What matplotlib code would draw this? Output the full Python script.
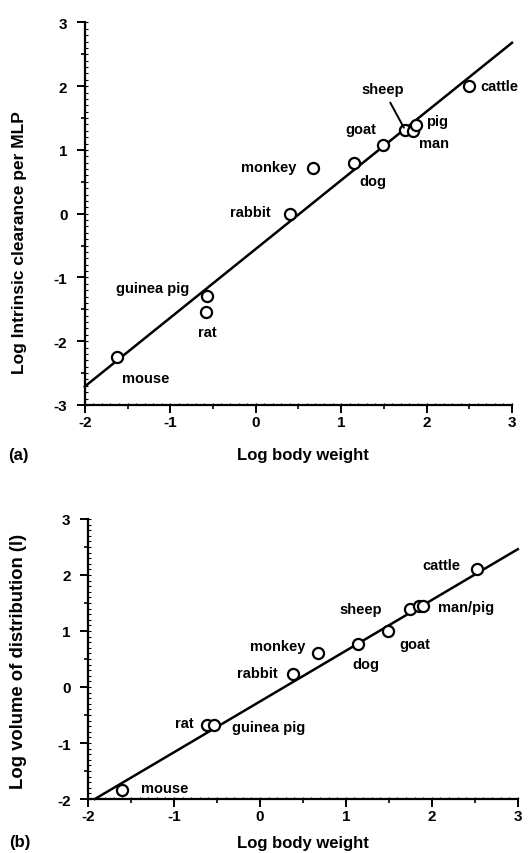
import matplotlib
matplotlib.use("Agg")
import matplotlib.pyplot as plt
from matplotlib.ticker import MultipleLocator, NullFormatter

plt.rcParams['font.family'] = ['Liberation Sans', 'DejaVu Sans']
plt.rcParams['font.weight'] = 'bold'
plt.rcParams['axes.unicode_minus'] = False

# panel (a): intrinsic clearance
species_a = ['mouse', 'guinea pig', 'rat', 'rabbit', 'monkey', 'dog', 'goat',
             'sheep', 'man', 'pig', 'cattle']
x_a = [-1.62, -0.57, -0.58, 0.40, 0.67, 1.15, 1.49, 1.75, 1.84, 1.88, 2.50]
y_a = [-2.24, -1.29, -1.54, 0.00, 0.72, 0.80, 1.08, 1.31, 1.30, 1.39, 2.00]
fit_a_x = [-2.0, 3.0]
fit_a_y = [-2.71, 2.68]
# label anchor positions (x, y, horizontal alignment)
lab_a = {
    'mouse': (-1.57, -2.57, 'left'),
    'guinea pig': (-0.78, -1.16, 'right'),
    'rat': (-0.57, -1.85, 'center'),
    'rabbit': (0.17, 0.03, 'right'),
    'monkey': (0.48, 0.73, 'right'),
    'dog': (1.21, 0.51, 'left'),
    'goat': (1.41, 1.33, 'right'),
    'sheep': (1.49, 1.95, 'center'),
    'man': (1.91, 1.11, 'left'),
    'pig': (1.99, 1.45, 'left'),
    'cattle': (2.63, 2.00, 'left'),
}

# panel (b): volume of distribution
species_b = ['mouse', 'rat', 'guinea pig', 'rabbit', 'monkey', 'dog', 'goat',
             'sheep', 'man', 'pig', 'cattle']
x_b = [-1.60, -0.61, -0.53, 0.39, 0.67, 1.14, 1.49, 1.75, 1.85, 1.90, 2.52]
y_b = [-1.83, -0.68, -0.68, 0.24, 0.60, 0.77, 1.00, 1.40, 1.45, 1.45, 2.10]
fit_b_x = [-1.92, 3.0]
fit_b_y = [-2.0, 2.46]
lab_b = {
    'mouse': (-1.38, -1.80, 'left'),
    'rat': (-0.77, -0.64, 'right'),
    'guinea pig': (-0.33, -0.71, 'left'),
    'rabbit': (0.21, 0.25, 'right'),
    'monkey': (0.21, 0.74, 'center'),
    'dog': (1.23, 0.41, 'center'),
    'goat': (1.62, 0.77, 'left'),
    'sheep': (1.42, 1.39, 'right'),
    'man/pig': (2.07, 1.43, 'left'),
    'cattle': (2.33, 2.17, 'right'),
}


def style_axes(ax, ylim):
    ax.set_xlim(-2, 3)
    ax.set_ylim(*ylim)
    ax.spines['top'].set_visible(False)
    ax.spines['right'].set_visible(False)
    ax.spines['left'].set_linewidth(1.6)
    ax.spines['bottom'].set_linewidth(1.6)
    ax.xaxis.set_major_locator(MultipleLocator(1))
    ax.yaxis.set_major_locator(MultipleLocator(1))
    ax.xaxis.set_minor_locator(MultipleLocator(0.5))
    ax.yaxis.set_minor_locator(MultipleLocator(0.5))
    ax.tick_params(which='major', direction='out', length=5.5, width=1.4,
                   labelsize=11)
    ax.tick_params(axis='x', which='major', pad=2)
    ax.tick_params(axis='y', which='major', pad=7)
    ax.tick_params(which='minor', direction='out', length=3, width=1.2)
    for lab in ax.get_xticklabels() + ax.get_yticklabels():
        lab.set_fontweight('bold')
    # fine inner ticks every 0.1
    sx = ax.secondary_xaxis('bottom')
    sx.xaxis.set_major_locator(MultipleLocator(0.1))
    sx.xaxis.set_major_formatter(NullFormatter())
    sx.tick_params(direction='in', length=1.8, width=0.8)
    sx.spines['bottom'].set_visible(False)
    sy = ax.secondary_yaxis('left')
    sy.yaxis.set_major_locator(MultipleLocator(0.1))
    sy.yaxis.set_major_formatter(NullFormatter())
    sy.tick_params(direction='in', length=1.8, width=0.8)
    sy.spines['left'].set_visible(False)


fig = plt.figure(figsize=(5.3, 8.54), dpi=100)

ax1 = fig.add_axes([0.160, 0.5246, 0.806, 0.448])
ax1.plot(fit_a_x, fit_a_y, color='black', lw=1.8, clip_on=False)
ax1.plot(x_a, y_a, 'o', mfc='white', mec='black', mew=1.6, ms=8, zorder=3)
for name, (tx, ty, ha) in lab_a.items():
    ax1.text(tx, ty, name, ha=ha, va='center', fontsize=10.5, fontweight='bold')
i_sheep = species_a.index('sheep')
ax1.annotate('', xy=(x_a[i_sheep], y_a[i_sheep]), xytext=(1.56, 1.78),
             arrowprops=dict(arrowstyle='-', color='black', lw=1.4))
style_axes(ax1, (-3, 3))
ax1.set_xlabel('Log body weight', fontsize=12, fontweight='bold')
ax1.set_ylabel('Log Intrinsic clearance per MLP', fontsize=12.5,
               fontweight='bold')
ax1.xaxis.set_label_coords(0.51, -0.11)
ax1.yaxis.set_label_coords(-0.135, 0.426)
fig.text(0.015, 0.467, '(a)', fontsize=12, va='center')

ax2 = fig.add_axes([0.166, 0.0632, 0.811, 0.328])
ax2.plot(fit_b_x, fit_b_y, color='black', lw=1.8, clip_on=False)
ax2.plot(x_b, y_b, 'o', mfc='white', mec='black', mew=1.6, ms=8, zorder=3)
for name, (tx, ty, ha) in lab_b.items():
    ax2.text(tx, ty, name, ha=ha, va='center', fontsize=10.5, fontweight='bold')
style_axes(ax2, (-2, 3))
ax2.set_xlabel('Log body weight', fontsize=12, fontweight='bold')
ax2.set_ylabel('Log volume of distribution (l)', fontsize=13.3,
               fontweight='bold')
ax2.xaxis.set_label_coords(0.5, -0.128)
ax2.yaxis.set_label_coords(-0.142, 0.493)
fig.text(0.018, 0.014, '(b)', fontsize=12, va='center')

fig.savefig('out.png', dpi=100)
